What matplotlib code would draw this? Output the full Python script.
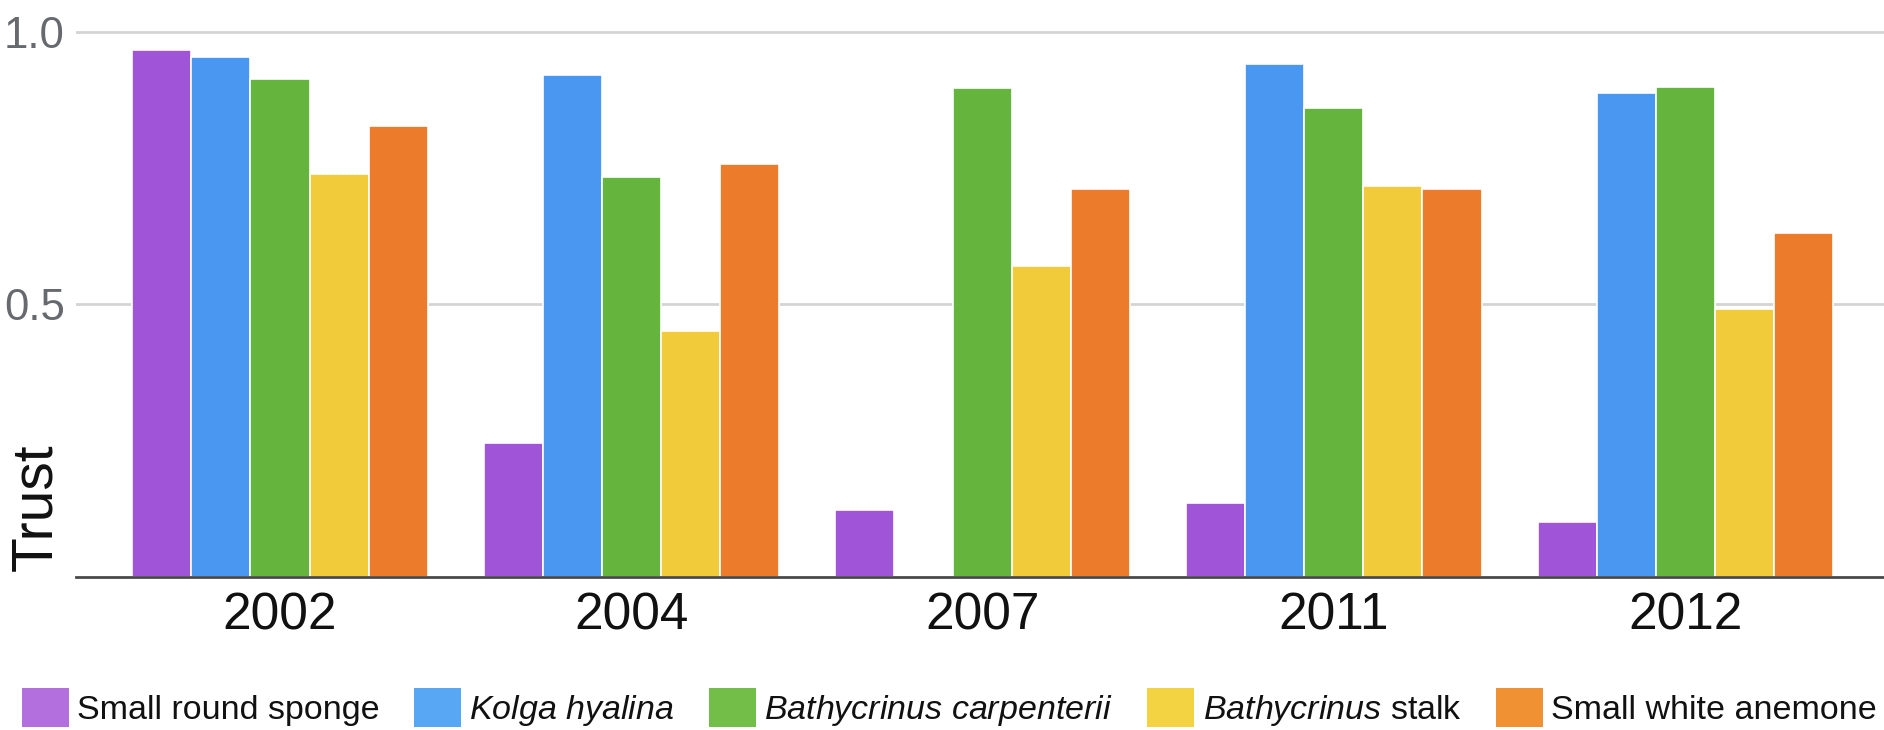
import numpy as np
import matplotlib
matplotlib.use('Agg')
import matplotlib.pyplot as plt
from matplotlib.patches import Patch

plt.rcParams['font.family'] = ['Liberation Sans', 'DejaVu Sans']
plt.rcParams['mathtext.fontset'] = 'custom'
plt.rcParams['mathtext.rm'] = 'Liberation Sans'
plt.rcParams['mathtext.it'] = 'Liberation Sans:italic'

# data
years = ['2002', '2004', '2007', '2011', '2012']
labels = ['Small round sponge',
          r'$\mathit{Kolga\ hyalina}$',
          r'$\mathit{Bathycrinus\ carpenterii}$',
          r'$\mathit{Bathycrinus}$ stalk',
          'Small white anemone']
sponge = [0.968, 0.245, 0.122, 0.135, 0.101]
kolga = [0.955, 0.922, np.nan, 0.942, 0.888]
carpenterii = [0.915, 0.735, 0.898, 0.861, 0.899]
stalk = [0.739, 0.452, 0.571, 0.718, 0.492]
anemone = [0.828, 0.758, 0.712, 0.712, 0.632]

bar_colors = ['#a055d8', '#4a97f2', '#64b43d', '#f2cb3a', '#ec7c2c']
legend_colors = ['#b36fde', '#58a7f5', '#73be49', '#f4d342', '#f09133']

series = [sponge, kolga, carpenterii, stalk, anemone]

fig = plt.figure(figsize=(18.84, 7.30), dpi=100)
ax = fig.add_axes([76 / 1884, 1 - 576.7 / 730, 1 - 76 / 1884, 576.7 / 730])

x = np.arange(len(years))
w = 0.1681
for k, vals in enumerate(series):
    ax.bar(x + (k - 2) * w, vals, w, color=bar_colors[k],
           edgecolor='white', linewidth=1.2, zorder=3)

ax.set_xlim(-0.5807, 4.566)
ax.set_ylim(0, 1.0593)
ax.set_yticks([0.5, 1.0])
ax.set_yticklabels(['0.5', '1.0'])
ax.set_xticks(x)
ax.set_xticklabels(years)
ax.yaxis.grid(True, color='#d4d4d4', linewidth=2, zorder=0)
ax.tick_params(axis='y', length=0, pad=8, labelsize=31.5, labelcolor='#666a6e')
ax.tick_params(axis='x', length=0, pad=11, labelsize=37, labelcolor='#111111')

for side in ['top', 'right', 'left']:
    ax.spines[side].set_visible(False)
ax.spines['bottom'].set_color('#4a4a4a')
ax.spines['bottom'].set_linewidth(2)
ax.spines['bottom'].set_zorder(5)

ax.set_ylabel('Trust', fontsize=41, color='#111111')
ax.yaxis.label.set_va('center')
ax.yaxis.set_label_coords(-0.0218, 0.121)

handles = [Patch(facecolor=c, edgecolor='none') for c in legend_colors]
fig.legend(handles, labels, loc='center left',
           bbox_to_anchor=(21.7 / 1884, 22 / 730), ncol=5, frameon=False,
           fontsize=24.5, handlelength=1.38, handleheight=1.38,
           handletextpad=0.24, columnspacing=1.02, borderpad=0,
           borderaxespad=0, labelcolor='#111111')

fig.savefig('out.png', dpi=100)
